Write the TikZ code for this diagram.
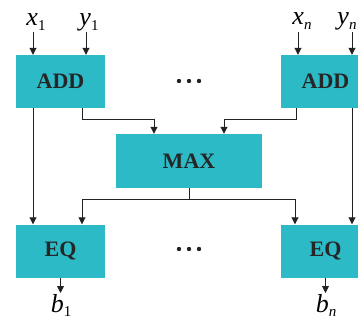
\documentclass[tikz,border=0pt]{standalone}
\usepackage{fontspec}
\setmainfont{Liberation Serif}
\usetikzlibrary{arrows.meta}
\definecolor{boxteal}{HTML}{2CBAC6}
\definecolor{linec}{HTML}{222222}
\tikzset{
  blk/.style={fill=boxteal, draw=none, minimum width=89pt, minimum height=53pt, inner sep=0pt, font=\fontsize{22}{26}\selectfont\bfseries, text=black!85},
  arr/.style={draw=linec, line width=0.9pt, -{Triangle[length=7pt,width=7pt]}},
  ln/.style={draw=linec, line width=0.9pt},
  lbl/.style={inner sep=0pt, anchor=base, font=\fontsize{26}{30}\selectfont},
  dot/.style={fill=linec}
}
\newcommand{\sublbl}[2]{\textit{#1}\raisebox{-0.35ex}{\fontsize{15}{17}\selectfont #2}}
\begin{document}
\begin{tikzpicture}[x=1pt,y=-1pt]
\useasboundingbox (0,0) rectangle (358,320);
\begin{scope}
\clip (0,0) rectangle (358,320);
\node[blk] (add1) at (60.5,81.5) {ADD};
\node[blk] (add2) at (325.5,81.5) {ADD};
\node[blk, minimum width=146pt, minimum height=54pt] (max) at (189,161) {MAX};
\node[blk] (eq1) at (60.5,251) {EQ};
\node[blk] (eq2) at (325.5,251) {EQ};

\node[lbl] (x1) at (36,26) {\sublbl{x}{1}};
\node[lbl] (y1) at (89,26) {\sublbl{y}{1}};
\node[lbl] (xn) at (302,25) {\sublbl{x}{\itshape n}};
\node[lbl] (yn) at (347,25) {\sublbl{y}{\itshape n}};
\node[lbl] (b1) at (61,312) {\sublbl{b}{1}};
\node[lbl] (bn) at (326,312) {\sublbl{b}{\itshape n}};

\coordinate (cx1) at (33,32);
\coordinate (cy1) at (86,32);
\coordinate (cxn) at (298,32);
\coordinate (cyn) at (352,32);
\coordinate (ob1) at (60.5,293);
\coordinate (obn) at (325.5,293);
\coordinate (j1) at (82,119);
\coordinate (j2) at (296,119);
\coordinate (m1) at (154,119);
\coordinate (m2) at (224,119);
\coordinate (jm) at (189,199);
\coordinate (e1) at (82,199);
\coordinate (e2) at (295,199);

\draw[arr] (cx1) -- (cx1 |- add1.north);
\draw[arr] (cy1) -- (cy1 |- add1.north);
\draw[arr] (cxn) -- (cxn |- add2.north);
\draw[arr] (cyn) -- (cyn |- add2.north);

\draw[arr] (cx1 |- add1.south) -- (cx1 |- eq1.north);
\draw[arr] (cyn |- add2.south) -- (cyn |- eq2.north);

\draw[arr] (j1 |- add1.south) -- (j1) -- (m1) -- (m1 |- max.north);
\draw[arr] (j2 |- add2.south) -- (j2) -- (m2) -- (m2 |- max.north);

\draw[ln] (max.south) -- (jm);
\draw[arr] (jm) -- (e1) -- (e1 |- eq1.north);
\draw[arr] (jm) -- (e2) -- (e2 |- eq2.north);

\draw[arr] (eq1.south) -- (ob1);
\draw[arr] (eq2.south) -- (obn);

\foreach \xx in {179,189,199} {
  \fill[dot] (\xx,81) circle (2.2pt);
  \fill[dot] (\xx,249) circle (2.2pt);
}
\end{scope}
\end{tikzpicture}
\end{document}
